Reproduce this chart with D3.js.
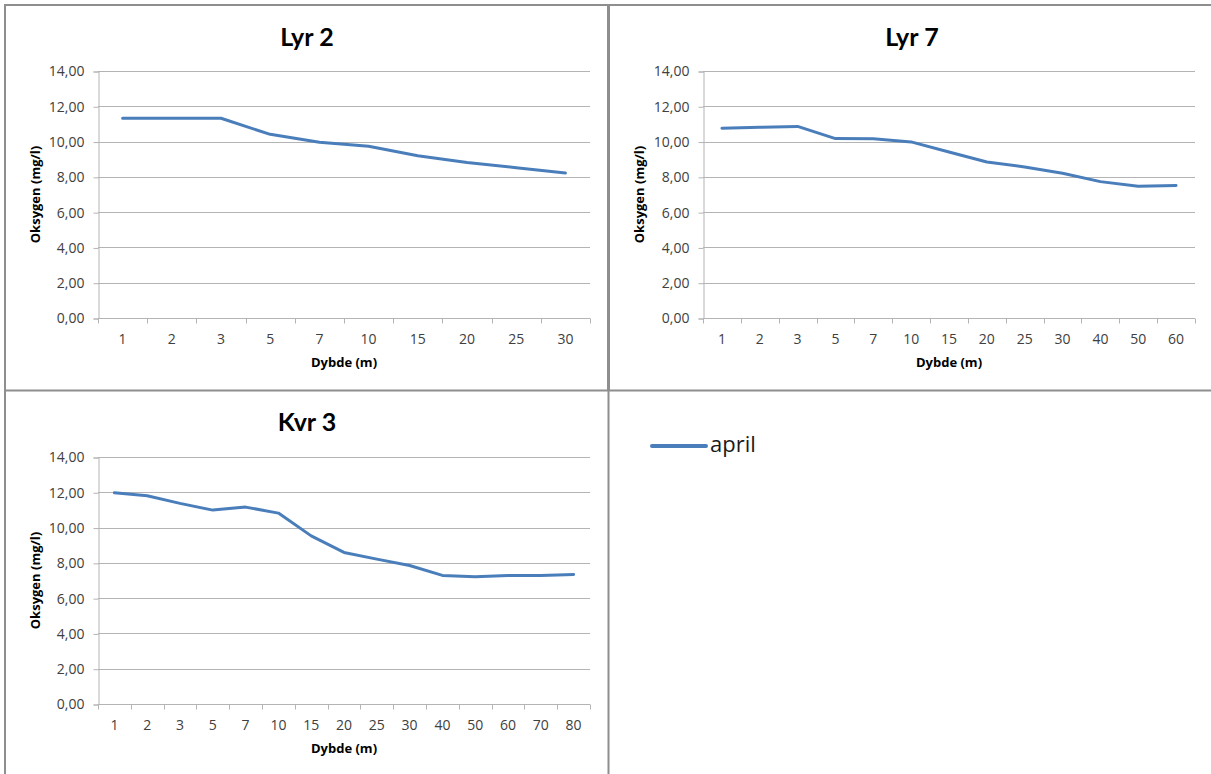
<!DOCTYPE html>
<html>
<head>
<meta charset="utf-8">
<script src="https://cdn.jsdelivr.net/npm/d3@7"></script>
<style>
  html, body { margin: 0; padding: 0; background: #fff; }
  svg { display: block; font-family: "Open Sans", Lato, sans-serif; }
</style>
</head>
<body>
<svg id="chart" width="1211" height="774"></svg>
<script>
// ---- data ----
const lyr2Depths = ["1", "2", "3", "5", "7", "10", "15", "20", "25", "30"];
const lyr2April  = [11.32, 11.32, 11.32, 10.41, 9.96, 9.73, 9.20, 8.81, 8.52, 8.22];

const lyr7Depths = ["1", "2", "3", "5", "7", "10", "15", "20", "25", "30", "40", "50", "60"];
const lyr7April  = [10.76, 10.81, 10.86, 10.17, 10.16, 9.98, 9.41, 8.84, 8.56, 8.20, 7.73, 7.47, 7.51];

const kvr3Depths = ["1", "2", "3", "5", "7", "10", "15", "20", "25", "30", "40", "50", "60", "70", "80"];
const kvr3April  = [11.97, 11.80, 11.37, 10.99, 11.16, 10.82, 9.53, 8.59, 8.21, 7.85, 7.29, 7.21, 7.29, 7.29, 7.34];

const yTicks = [0, 2, 4, 6, 8, 10, 12, 14];
const seriesName = "april";
const yTitle = "Oksygen (mg/l)";
const xTitle = "Dybde (m)";

// ---- layout ----
const svg = d3.select("#chart");
const lineColor = "#4a7ebb";
const gridColor = "#b4b4b4";
const frameColor = "#8e8e8e";
const fmt = v => d3.format(".2f")(v).replace(".", ",");

const panels = [
  { title: "Lyr 2", depths: lyr2Depths, values: lyr2April, x0: 98, x1: 590, y0: 71, y1: 318, titleY: 46, cx: 307, ytx: 36 },
  { title: "Lyr 7", depths: lyr7Depths, values: lyr7April, x0: 703, x1: 1195, y0: 71, y1: 318, titleY: 46, cx: 912, ytx: 640 },
  { title: "Kvr 3", depths: kvr3Depths, values: kvr3April, x0: 98, x1: 590, y0: 457, y1: 704, titleY: 431, cx: 307, ytx: 36 }
];

panels.forEach(p => {
  const g = svg.append("g");
  const x = d3.scaleBand().domain(p.depths).range([p.x0, p.x1]);
  const y = d3.scaleLinear().domain([0, 14]).range([p.y1, p.y0]);

  // gridlines
  g.append("g").selectAll("line").data(yTicks.filter(t => t > 0)).join("line")
    .attr("x1", p.x0).attr("x2", p.x1)
    .attr("y1", d => Math.round(y(d)) + 0.5).attr("y2", d => Math.round(y(d)) + 0.5)
    .attr("stroke", gridColor).attr("stroke-width", 1);

  // y axis
  const ya = g.append("g").attr("transform", `translate(${p.x0 + 0.5},0.5)`)
    .call(d3.axisLeft(y).tickValues(yTicks).tickFormat(fmt).tickSize(5).tickPadding(9));
  ya.select(".domain").attr("stroke", gridColor);
  ya.selectAll(".tick line").attr("stroke", gridColor);
  ya.selectAll(".tick text").attr("fill", "#404040").style("font-size", "14px").style("font-family", "'Open Sans', sans-serif");

  // x axis (ticks at category boundaries)
  const xa = g.append("g").attr("transform", `translate(0,${Math.round(p.y1) + 0.5})`);
  xa.append("line").attr("x1", p.x0).attr("x2", p.x1).attr("stroke", gridColor);
  const bounds = p.depths.map(d => x(d)).concat([p.x1]);
  xa.selectAll("line.tk").data(bounds).join("line").attr("class", "tk")
    .attr("x1", d => Math.round(d) + 0.5).attr("x2", d => Math.round(d) + 0.5)
    .attr("y1", 0).attr("y2", 5).attr("stroke", gridColor);
  xa.selectAll("text").data(p.depths).join("text")
    .attr("x", d => x(d) + x.bandwidth() / 2).attr("y", 25)
    .attr("text-anchor", "middle").attr("fill", "#404040")
    .style("font-size", "14px").text(d => d);

  // titles
  g.append("text").attr("x", p.cx).attr("y", p.titleY).attr("text-anchor", "middle")
    .style("font-family", "Lato, sans-serif")
    .style("font-size", "25px").style("font-weight", "bold").attr("fill", "#000").text(p.title);
  g.append("text").attr("x", (p.x0 + p.x1) / 2 + 0).attr("y", p.y1 + 49).attr("text-anchor", "middle")
    .style("font-size", "13px").style("font-weight", "bold").attr("fill", "#000").text(xTitle);
  g.append("text").attr("transform", `translate(${p.ytx + 4},${(p.y0 + p.y1) / 2}) rotate(-90)`)
    .attr("text-anchor", "middle")
    .style("font-size", "13px").style("font-weight", "bold").attr("fill", "#000").text(yTitle);

  // series line
  const line = d3.line()
    .x((d, i) => x(p.depths[i]) + x.bandwidth() / 2)
    .y(d => y(d));
  g.append("path").datum(p.values).attr("d", line)
    .attr("fill", "none").attr("stroke", lineColor).attr("stroke-width", 3)
    .attr("stroke-linejoin", "round").attr("stroke-linecap", "round");
});

// legend
const lg = svg.append("g");
lg.append("line").attr("x1", 652).attr("x2", 706).attr("y1", 446).attr("y2", 446)
  .attr("stroke", lineColor).attr("stroke-width", 4).attr("stroke-linecap", "round");
lg.append("text").attr("x", 710).attr("y", 452).style("font-size", "22px").attr("fill", "#1a1a1a").text(seriesName);

// frame
const frame = svg.append("g").attr("stroke", frameColor).attr("fill", "none");
frame.append("line").attr("x1", 4).attr("x2", 1211).attr("y1", 5).attr("y2", 5).attr("stroke-width", 2);
frame.append("line").attr("x1", 5).attr("x2", 5).attr("y1", 4).attr("y2", 774).attr("stroke-width", 2);
frame.append("line").attr("x1", 608.5).attr("x2", 608.5).attr("y1", 4).attr("y2", 390).attr("stroke-width", 3);
frame.append("line").attr("x1", 608.5).attr("x2", 608.5).attr("y1", 390).attr("y2", 774).attr("stroke-width", 2);
frame.append("line").attr("x1", 4).attr("x2", 1211).attr("y1", 390.5).attr("y2", 390.5).attr("stroke-width", 2);
</script>
</body>
</html>
